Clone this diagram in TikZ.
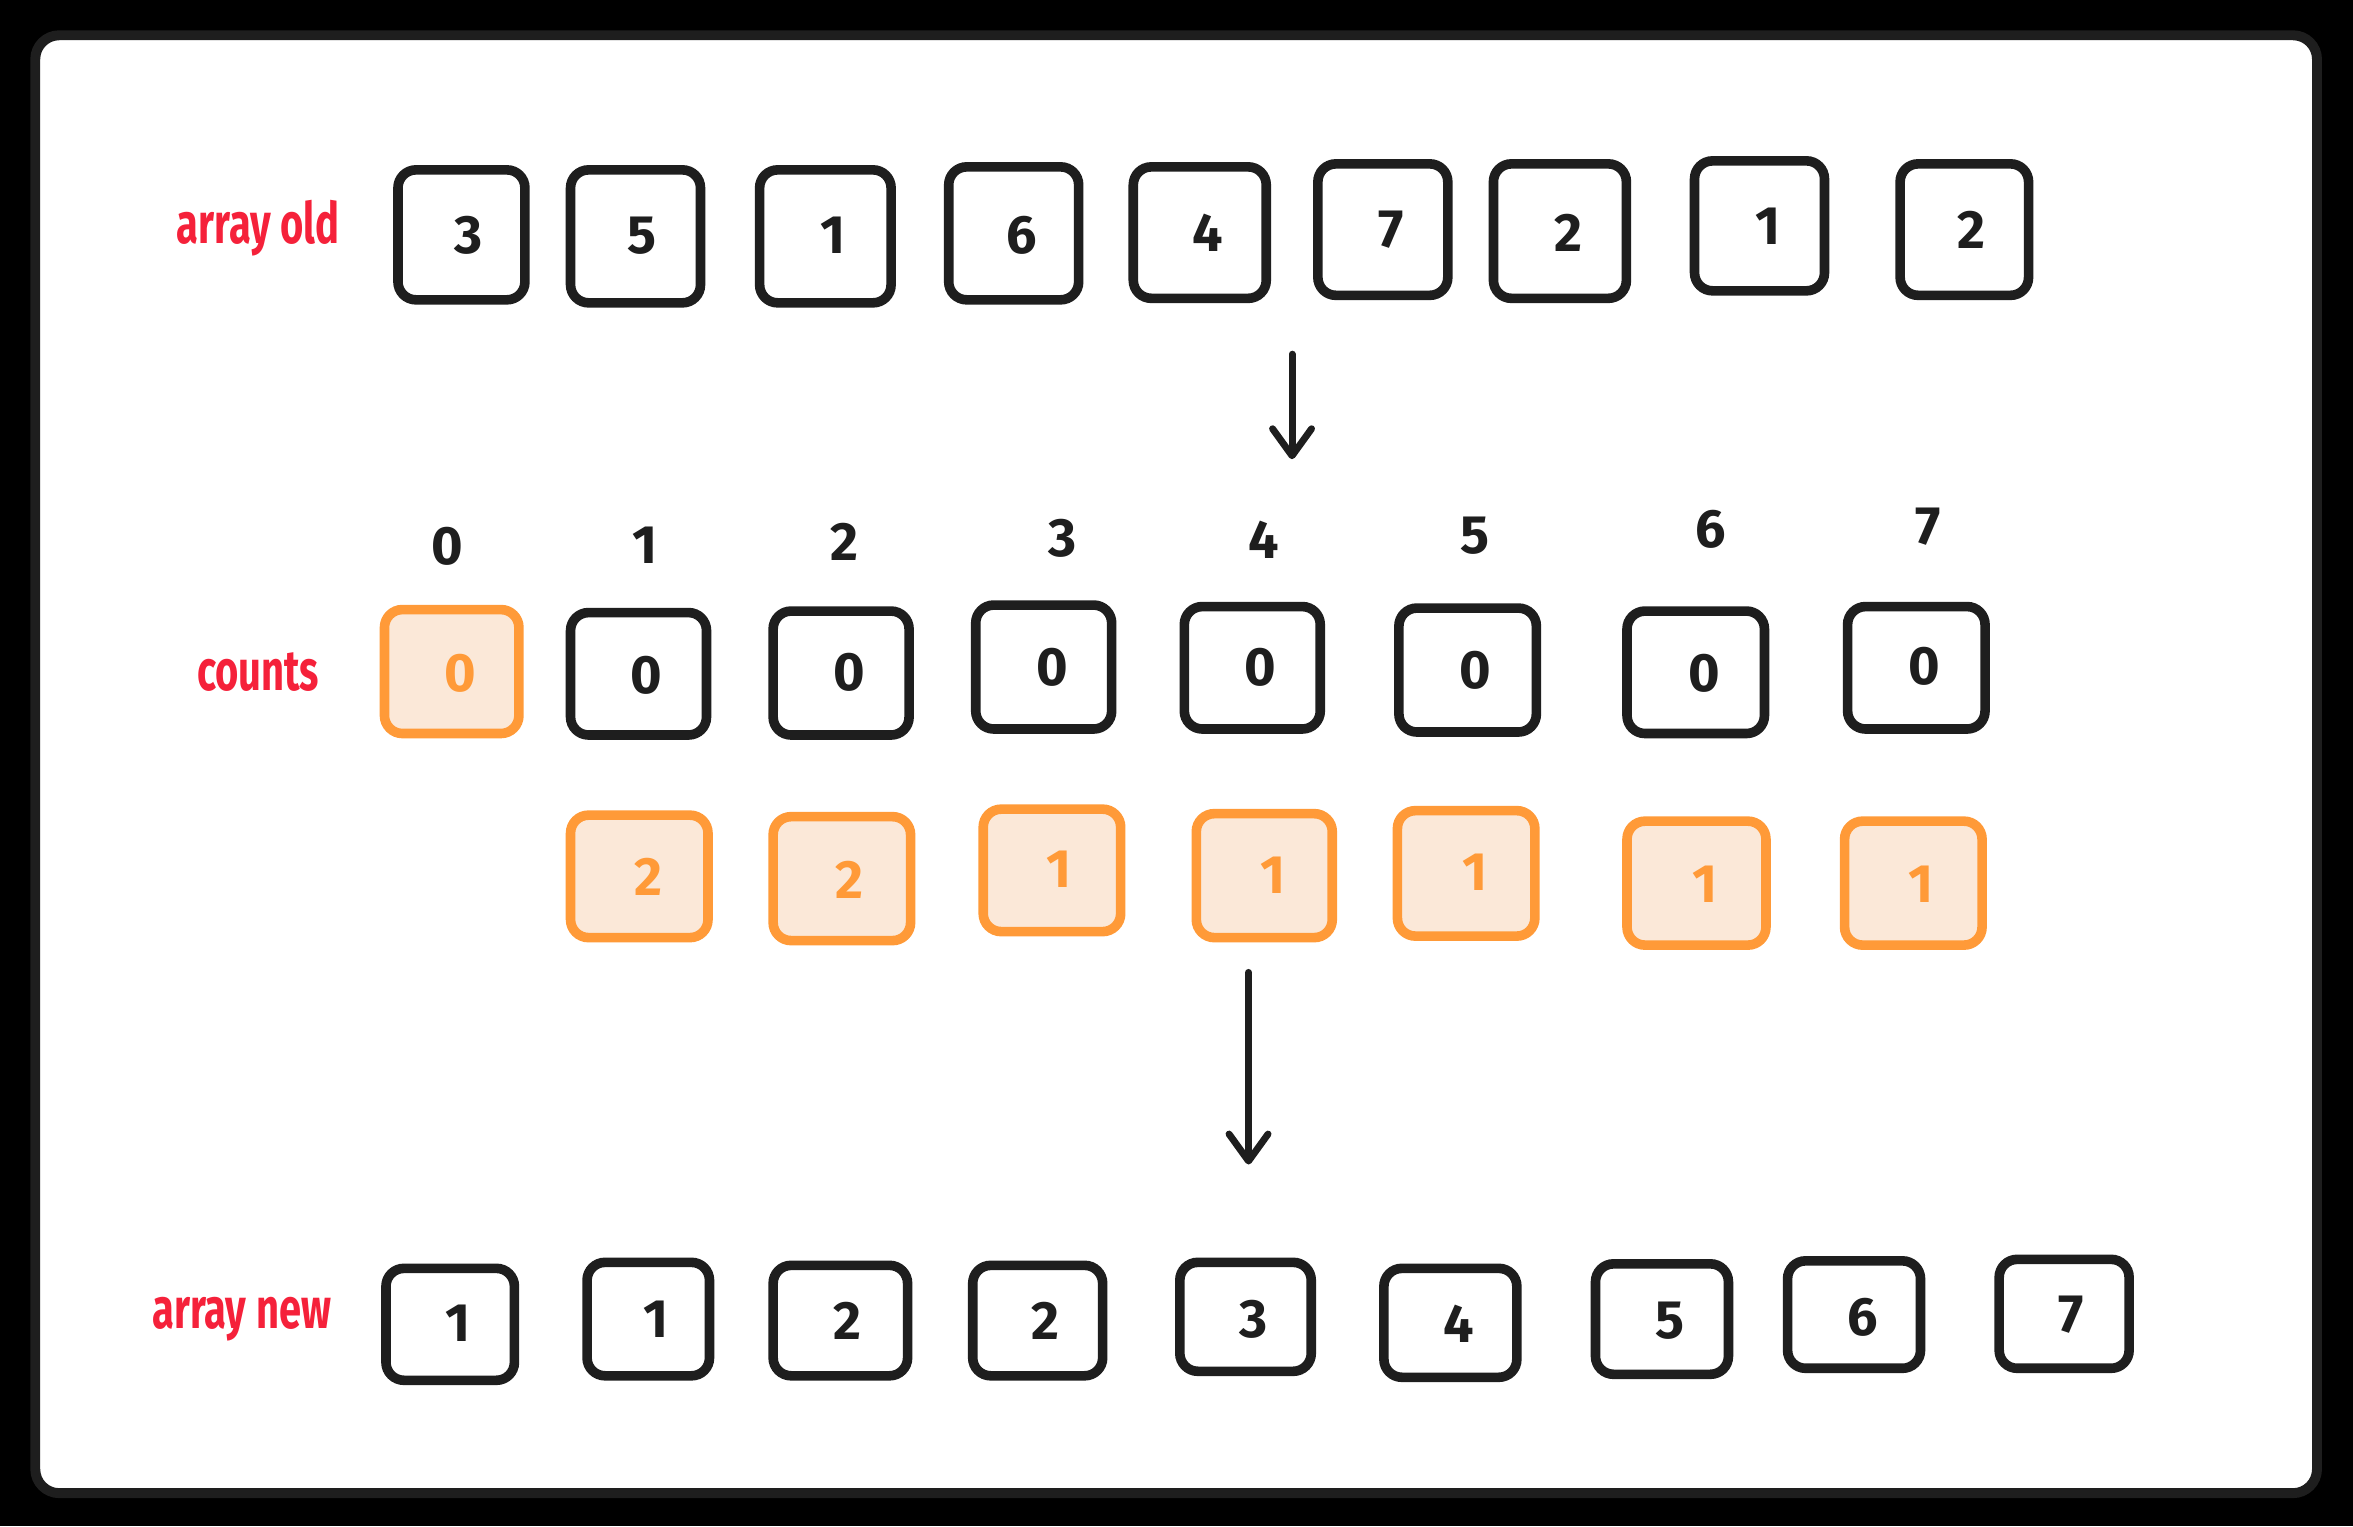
\documentclass[tikz,border=0pt]{standalone}
\usepackage{fontspec}
\setmainfont{Fira Sans}
\newfontfamily\lblfont[FakeStretch=0.7]{Fira Sans}
\usetikzlibrary{arrows.meta,fit}
\definecolor{ink}{HTML}{1E1E1E}
\definecolor{redlbl}{HTML}{F5213A}
\definecolor{orng}{HTML}{FF9A38}
\definecolor{orngfill}{HTML}{FBE8D8}
\tikzset{
 bx/.style={draw=ink, line width=3.2pt, rounded corners=6pt, inner sep=-1.6pt, fill=white},
 obx/.style={bx, draw=orng, fill=orngfill},
 dg/.style={text=ink, font=\fontsize{18}{20}\selectfont\bfseries, inner sep=0pt},
 odg/.style={dg, text=orng},
 lbl/.style={text=redlbl, font=\lblfont\bfseries\fontsize{19}{22}\selectfont, inner sep=0pt, anchor=base},
 arr/.style={draw=ink, line width=2.3pt, line cap=round, -{Straight Barb[length=9pt,width=13pt,round]}},
}
\begin{document}
\begin{tikzpicture}[x=0.5pt,y=-0.5pt]
\useasboundingbox (0,0) rectangle (1568,1017);
\fill[black] (0,0) rectangle (1568,1017);
\draw[draw=ink, fill=white, line width=3.3pt, rounded corners=8pt] (23.5,23.5) rectangle (1544,995);

% row 1: array old
\node[lbl] (lold) at (172,162) {array old};
\node[bx, fit={(262,110)(353,203)}] (a1) {};
\node[bx, fit={(377,110)(470,205)}] (a2) {};
\node[bx, fit={(503,110)(597,205)}] (a3) {};
\node[bx, fit={(629,108)(722,203)}] (a4) {};
\node[bx, fit={(752,108)(847,202)}] (a5) {};
\node[bx, fit={(875,106)(968,200)}] (a6) {};
\node[bx, fit={(992,106)(1087,202)}] (a7) {};
\node[bx, fit={(1126,104)(1219,197)}] (a8) {};
\node[bx, fit={(1263,106)(1355,200)}] (a9) {};
\node[dg] (a1t) at (312,157) {3};
\node[dg] (a2t) at (428,157) {5};
\node[dg] (a3t) at (555,157) {1};
\node[dg] (a4t) at (681,157) {6};
\node[dg] (a5t) at (805,155) {4};
\node[dg] (a6t) at (927,153) {7};
\node[dg] (a7t) at (1045,155) {2};
\node[dg] (a8t) at (1178,151) {1};
\node[dg] (a9t) at (1314,153) {2};

\coordinate (ar1s) at (861,236);
\coordinate (ar1e) at (861,306);
\draw[arr] (ar1s) -- (ar1e);

% index labels
\node[dg] (i0) at (298,364) {0};
\node[dg] (i1) at (430,363) {1};
\node[dg] (i2) at (563,361) {2};
\node[dg] (i3) at (708,359) {3};
\node[dg] (i4) at (842,360) {4};
\node[dg] (i5) at (983,357) {5};
\node[dg] (i6) at (1140,353) {6};
\node[dg] (i7) at (1285,351) {7};

% counts row
\node[lbl] (lcnt) at (172,460) {counts};
\node[obx, fit={(253,403)(349,492)}] (c0) {};
\node[bx, fit={(377,405)(474,493)}] (c1) {};
\node[bx, fit={(512,404)(609,493)}] (c2) {};
\node[bx, fit={(647,400)(744,489)}] (c3) {};
\node[bx, fit={(786,401)(883,489)}] (c4) {};
\node[bx, fit={(929,402)(1027,491)}] (c5) {};
\node[bx, fit={(1081,404)(1179,492)}] (c6) {};
\node[bx, fit={(1228,401)(1326,489)}] (c7) {};
\node[odg] (c0t) at (307,449) {0};
\node[dg] (c1t) at (431,450) {0};
\node[dg] (c2t) at (566,448) {0};
\node[dg] (c3t) at (701,445) {0};
\node[dg] (c4t) at (840,445) {0};
\node[dg] (c5t) at (983,447) {0};
\node[dg] (c6t) at (1136,449) {0};
\node[dg] (c7t) at (1282,444) {0};

% orange row
\node[obx, fit={(377,540)(475,628)}] (o1) {};
\node[obx, fit={(512,541)(610,630)}] (o2) {};
\node[obx, fit={(652,536)(750,624)}] (o3) {};
\node[obx, fit={(794,539)(891,628)}] (o4) {};
\node[obx, fit={(928,537)(1026,627)}] (o5) {};
\node[obx, fit={(1081,544)(1180,633)}] (o6) {};
\node[obx, fit={(1226,544)(1324,633)}] (o7) {};
\node[odg] (o1t) at (432,584) {2};
\node[odg] (o2t) at (566,586) {2};
\node[odg] (o3t) at (706,579) {1};
\node[odg] (o4t) at (848,583) {1};
\node[odg] (o5t) at (983,581) {1};
\node[odg] (o6t) at (1136,589) {1};
\node[odg] (o7t) at (1280,589) {1};

\coordinate (ar2s) at (832,648);
\coordinate (ar2e) at (832,776);
\draw[arr] (ar2s) -- (ar2e);

% row 3: array new
\node[lbl] (lnew) at (161,885) {array new};
\node[bx, fit={(254,842)(346,923)}] (n1) {};
\node[bx, fit={(388,838)(476,920)}] (n2) {};
\node[bx, fit={(512,840)(608,920)}] (n3) {};
\node[bx, fit={(645,840)(738,920)}] (n4) {};
\node[bx, fit={(783,838)(877,917)}] (n5) {};
\node[bx, fit={(919,842)(1014,921)}] (n6) {};
\node[bx, fit={(1060,839)(1155,919)}] (n7) {};
\node[bx, fit={(1188,837)(1283,915)}] (n8) {};
\node[bx, fit={(1329,836)(1422,915)}] (n9) {};
\node[dg] (n1t) at (305,882) {1};
\node[dg] (n2t) at (437,879) {1};
\node[dg] (n3t) at (565,880) {2};
\node[dg] (n4t) at (697,880) {2};
\node[dg] (n5t) at (835,879) {3};
\node[dg] (n6t) at (972,882) {4};
\node[dg] (n7t) at (1113,880) {5};
\node[dg] (n8t) at (1241,878) {6};
\node[dg] (n9t) at (1380,876) {7};
\end{tikzpicture}
\end{document}
